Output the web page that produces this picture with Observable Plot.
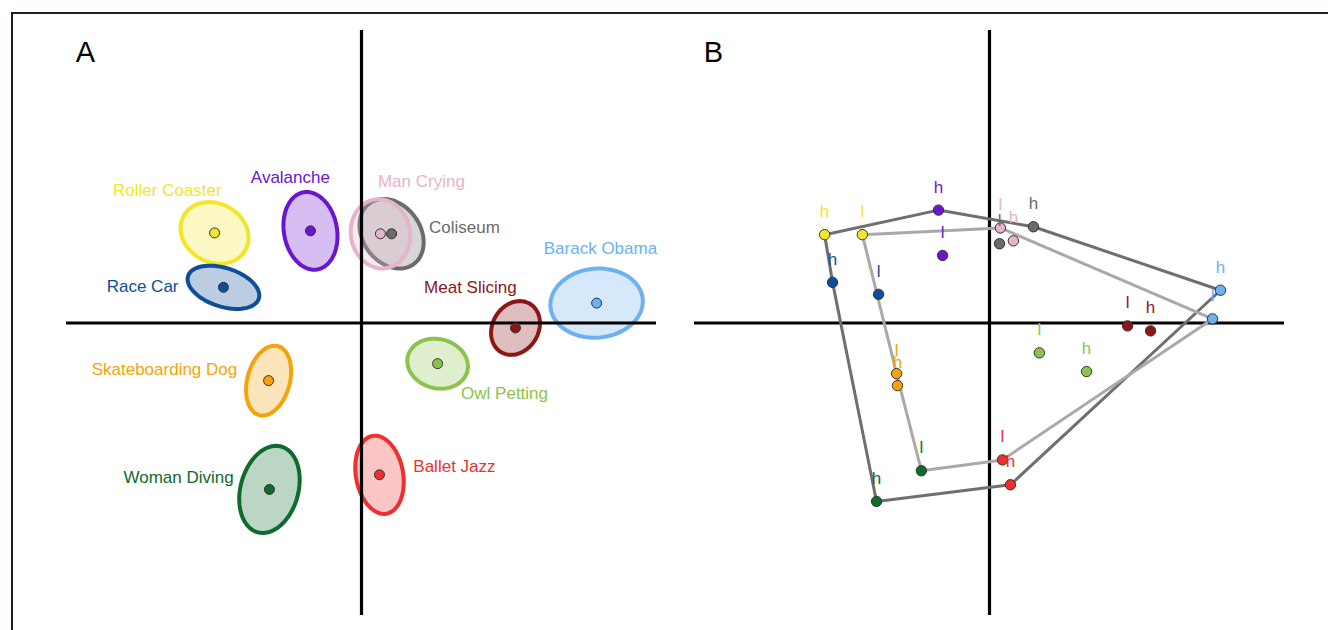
<!DOCTYPE html>
<html><head><meta charset="utf-8">
<script src="https://cdn.jsdelivr.net/npm/d3@7"></script>
<script src="https://cdn.jsdelivr.net/npm/@observablehq/plot@0.6"></script>
<style>
body{margin:0;background:#fff;}
#wrap{position:relative;width:1328px;height:630px;overflow:hidden;background:#fff;}
#frame{position:absolute;left:11px;top:12px;width:1400px;height:700px;border-left:2.5px solid #231f20;border-top:2.5px solid #231f20;pointer-events:none;}
#a,#b{position:absolute;top:0;}
#a{left:0px}
#b{left:664px}
</style></head>
<body>
<div id="wrap"><div id="a"></div><div id="b"></div><div id="frame"></div></div>
<script>
// ---- Data (coordinates in the plot's own units, axes run -1..1) ----
const stimuli = ["Roller Coaster","Avalanche","Race Car","Coliseum","Man Crying","Meat Slicing","Barack Obama","Owl Petting","Ballet Jazz","Skateboarding Dog","Woman Diving"];
const colors  = ["#f2e62a","#6a16cf","#0e4d98","#6b6b6b","#e6b3cc","#8c1518","#6cb1f2","#8dc34d","#f02f2f","#f5a30c","#0f6a2d"];
// Panel A: ellipse centres, semi-axes, tilt (degrees)
const centerX = [-0.498,-0.173,-0.468, 0.102, 0.064, 0.522, 0.797, 0.258, 0.061,-0.315,-0.312];
const centerY = [ 0.308, 0.315, 0.122, 0.305, 0.305,-0.017, 0.068,-0.139,-0.519,-0.197,-0.569];
const radiusX = [ 0.120, 0.090, 0.126, 0.128, 0.100, 0.096, 0.157, 0.104, 0.080, 0.072, 0.098];
const radiusY = [ 0.100, 0.134, 0.066, 0.098, 0.119, 0.078, 0.118, 0.084, 0.135, 0.122, 0.152];
const tiltDeg = [ -30,   10,   -18,   -55,   10,    60,    5,    -15,   10,   -15,   -15 ];
const labelX  = [-0.658,-0.241,-0.742, 0.349, 0.203, 0.369, 0.810, 0.485, 0.315,-0.668,-0.620];
const labelY  = [ 0.454, 0.498, 0.125, 0.325, 0.485, 0.122, 0.254,-0.241,-0.492,-0.159,-0.529];
// Panel B: "h" and "l" conditions
const highX = [-0.559,-0.173,-0.532, 0.149, 0.081, 0.546, 0.783, 0.329, 0.071,-0.312,-0.383];
const highY = [ 0.302, 0.386, 0.139, 0.329, 0.281,-0.027, 0.112,-0.166,-0.553,-0.214,-0.610];
const lowX  = [-0.431,-0.159,-0.376, 0.034, 0.037, 0.468, 0.756, 0.169, 0.044,-0.315,-0.231];
const lowY  = [ 0.302, 0.231, 0.098, 0.271, 0.325,-0.010, 0.014,-0.102,-0.468,-0.173,-0.505];
const panelLabels = ["A","B"];

const idx = d3.range(stimuli.length);
const font = "Liberation Sans, Arial, Helvetica, sans-serif";

function ellipsePath(i){
  const t = tiltDeg[i]*Math.PI/180, n = 72;
  return d3.range(n).map(k=>{
    const u = 2*Math.PI*k/n;
    const ex = radiusX[i]*Math.cos(u), ey = radiusY[i]*Math.sin(u);
    return {x: centerX[i] + ex*Math.cos(t) - ey*Math.sin(t),
            y: centerY[i] + ex*Math.sin(t) + ey*Math.cos(t)};
  });
}

const common = {
  width: 664, height: 630,
  x: {domain:[-1,1], axis:null},
  y: {domain:[-1,1], axis:null},
  color: {type:"identity"},
  style: {fontFamily: font, background:"transparent"}
};

// ---- Panel A ----
const plotA = Plot.plot({
  ...common,
  marginLeft: 66, marginRight: 8, marginTop: 30, marginBottom: 15,
  marks: [
    ...idx.map(i => Plot.line(ellipsePath(i), {x:"x", y:"y", curve:"linear-closed",
        stroke: colors[i], fill: colors[i], fillOpacity: 0.28, strokeWidth: 4})),
    Plot.ruleX([0], {y1:-1, y2:1, stroke:"#000", strokeWidth:3.2}),
    Plot.ruleY([0], {x1:-1, x2:1, stroke:"#000", strokeWidth:3.2}),
    Plot.dot(idx, {x:i=>centerX[i], y:i=>centerY[i], r:5, fill:i=>colors[i], stroke:"#333", strokeWidth:1}),
    Plot.text(idx, {x:i=>labelX[i], y:i=>labelY[i], text:i=>stimuli[i], fill:i=>colors[i], fontSize:17}),
    Plot.text([panelLabels[0]], {x:-0.936, y:0.925, text:d=>d, fontSize:29, fill:"#000"})
  ]
});
document.getElementById("a").appendChild(plotA);

// ---- Panel B ----
const highPts = idx.map(i=>[highX[i], highY[i]]);
const lowPts  = idx.map(i=>[lowX[i], lowY[i]]);
const highHull = d3.polygonHull(highPts);
const lowHull  = d3.polygonHull(lowPts);

const plotB = Plot.plot({
  ...common,
  marginLeft: 30, marginRight: 44, marginTop: 30, marginBottom: 15,
  marks: [
    Plot.ruleX([0], {y1:-1, y2:1, stroke:"#000", strokeWidth:3.2}),
    Plot.ruleY([0], {x1:-1, x2:1, stroke:"#000", strokeWidth:3.2}),
    Plot.line(highHull, {x:d=>d[0], y:d=>d[1], curve:"linear-closed", stroke:"#6f6f6f", strokeWidth:3}),
    Plot.line(lowHull, {x:d=>d[0], y:d=>d[1], curve:"linear-closed", stroke:"#a9a9a9", strokeWidth:3}),
    Plot.dot(idx, {x:i=>lowX[i], y:i=>lowY[i], r:5.2, fill:i=>colors[i], stroke:"#333", strokeWidth:1}),
    Plot.dot(idx, {x:i=>highX[i], y:i=>highY[i], r:5.2, fill:i=>colors[i], stroke:"#333", strokeWidth:1}),
    Plot.text(idx, {x:i=>lowX[i], y:i=>lowY[i], text:()=> "l", dy:-23, fill:i=>colors[i], fontSize:17}),
    Plot.text(idx, {x:i=>highX[i], y:i=>highY[i], text:()=> "h", dy:-23, fill:i=>colors[i], fontSize:17}),
    Plot.text([panelLabels[1]], {x:-0.936, y:0.925, text:d=>d, fontSize:29, fill:"#000"})
  ]
});
document.getElementById("b").appendChild(plotB);
</script>
</body></html>
